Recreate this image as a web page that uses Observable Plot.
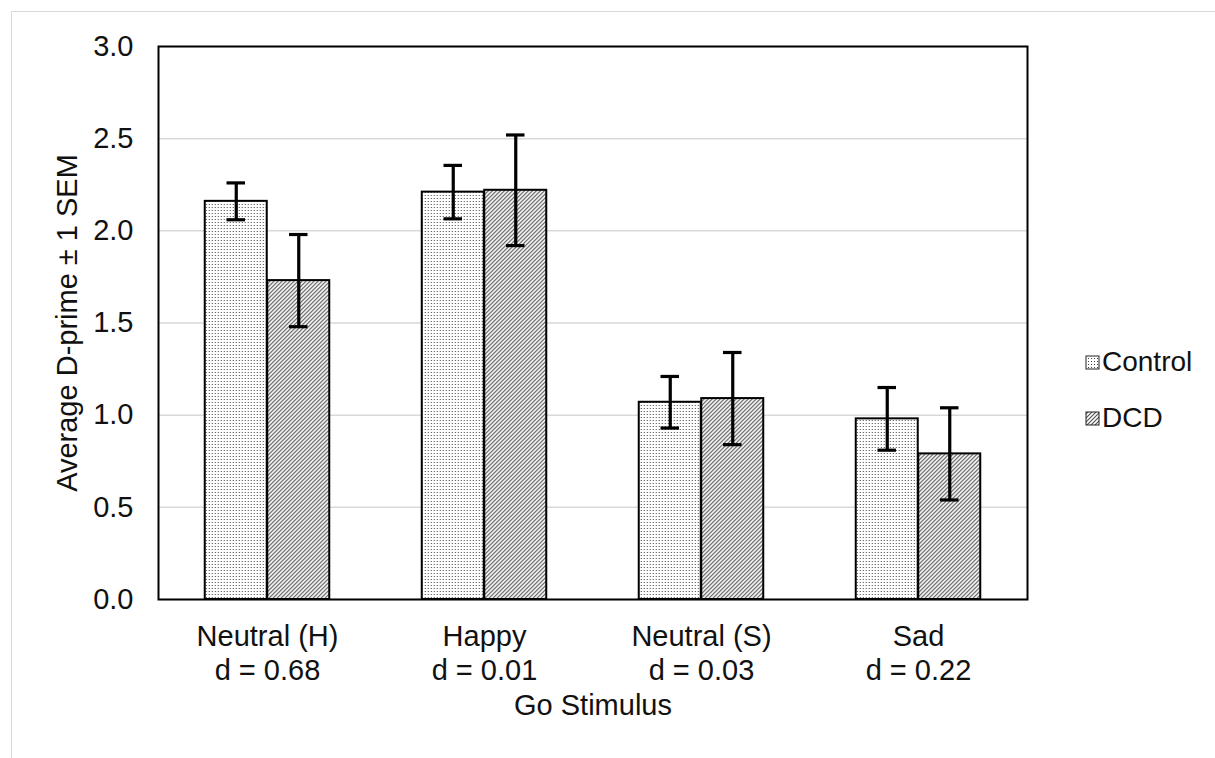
<!DOCTYPE html>
<html>
<head>
<meta charset="utf-8">
<script src="https://cdn.jsdelivr.net/npm/d3@7"></script>
<script src="https://cdn.jsdelivr.net/npm/@observablehq/plot@0.6"></script>
<style>
  body { margin: 0; background: #fff; font-family: "Liberation Sans", Arial, sans-serif; }
  #wrap { position: relative; width: 1215px; height: 758px; overflow: hidden; background: #fff; }
  #border { position: absolute; left: 11px; top: 11px; width: 1400px; height: 1000px; border: 1px solid #d9d9d9; box-sizing: border-box; pointer-events: none; }
  #chart { position: absolute; left: 0; top: 0; }
  #legend { position: absolute; left: 1085px; top: 334px; font-size: 28px; color: #111; }
  .item { display: flex; align-items: center; height: 56px; }
  .item svg { margin-right: 2px; }
</style>
</head>
<body>
<svg width="0" height="0" style="position:absolute">
  <defs>
    <pattern id="dots" width="3" height="3" patternUnits="userSpaceOnUse">
      <rect width="3" height="3" fill="#fff"/>
      <rect width="1" height="1" fill="#444"/>
    </pattern>
    <pattern id="hatch" width="4" height="4" patternUnits="userSpaceOnUse">
      <rect width="4" height="4" fill="#fff"/>
      <path d="M-1,1 l2,-2 M0,4 l4,-4 M3,5 l2,-2" stroke="#555" stroke-width="1.2"/>
    </pattern>
  </defs>
</svg>
<div id="wrap">
  <div id="border"></div>
  <div id="chart"></div>
  <div id="legend"></div>
</div>
<script>
// ---- data ----
const categories = ["Neutral (H)", "Happy", "Neutral (S)", "Sad"];
const effectSizes = ["0.68", "0.01", "0.03", "0.22"];
const groups = ["Control", "DCD"];
const controlMeans = [2.16, 2.21, 1.07, 0.98];
const controlSEM = [0.10, 0.145, 0.14, 0.17];
const dcdMeans = [1.73, 2.22, 1.09, 0.79];
const dcdSEM = [0.25, 0.30, 0.25, 0.25];
const yTicks = [0, 0.5, 1, 1.5, 2, 2.5, 3];

// ---- layout / style ----
const W = 1215, H = 758, mL = 158, mR = 188, mT = 46, mB = 159;
const step = (W - mL - mR) / categories.length;
const barW = 62.5;
const capW = 19;
const pIn = 1 - barW / step;
const fills = { Control: "url(#dots)", DCD: "url(#hatch)" };

const rows = (means, sems) => categories.map((c, i) => ({
  category: c, mean: means[i], lo: means[i] - sems[i], hi: means[i] + sems[i]
}));
const series = [
  { name: groups[0], data: rows(controlMeans, controlSEM), side: -1 },
  { name: groups[1], data: rows(dcdMeans, dcdSEM), side: 1 }
];

const marks = [Plot.gridY(yTicks, { stroke: "#d9d9d9", strokeOpacity: 1, strokeWidth: 1.5 })];
for (const s of series) {
  const dx = s.side * barW / 2;
  const inset = (barW - capW) / 2;
  marks.push(
    Plot.barY(s.data, { x: "category", y: "mean", fill: fills[s.name], stroke: "#000", strokeWidth: 2, dx }),
    Plot.ruleX(s.data, { x: "category", y1: "lo", y2: "hi", dx, stroke: "#000", strokeWidth: 3.2 }),
    Plot.tickY(s.data, { x: "category", y: "lo", dx, insetLeft: inset, insetRight: inset, stroke: "#000", strokeWidth: 3.2 }),
    Plot.tickY(s.data, { x: "category", y: "hi", dx, insetLeft: inset, insetRight: inset, stroke: "#000", strokeWidth: 3.2 })
  );
}
marks.push(
  Plot.frame({ stroke: "#000", strokeWidth: 2 }),
  Plot.axisY(yTicks, {
    tickSize: 0, tickPadding: 25, tickFormat: d3.format(".1f"),
    label: "Average D-prime ± 1 SEM", labelAnchor: "center", labelArrow: "none", labelOffset: 102
  }),
  Plot.axisX({
    tickSize: 0, tickPadding: 23, lineHeight: 1.15,
    tickFormat: d => `${d}\nd = ${effectSizes[categories.indexOf(d)]}`,
    label: "Go Stimulus", labelAnchor: "center", labelArrow: "none", labelOffset: 115
  })
);

const chart = Plot.plot({
  width: W, height: H,
  marginLeft: mL, marginRight: mR, marginTop: mT, marginBottom: mB,
  style: { fontFamily: "Liberation Sans, Arial, sans-serif", fontSize: "29px", color: "#111", background: "transparent", overflow: "visible" },
  x: { type: "band", domain: categories, paddingInner: pIn, paddingOuter: pIn / 2, axis: null },
  y: { domain: [0, 3], axis: null },
  marks
});
document.getElementById("chart").appendChild(chart);

// ---- legend ----
const legend = d3.select("#legend");
for (const g of groups) {
  const item = legend.append("div").attr("class", "item");
  const sw = item.append("svg").attr("width", 15).attr("height", 15);
  sw.append("rect").attr("x", 1).attr("y", 1).attr("width", 13).attr("height", 13)
    .attr("fill", fills[g]).attr("stroke", "#222").attr("stroke-width", 1);
  item.append("span").text(g);
}
</script>
</body>
</html>
